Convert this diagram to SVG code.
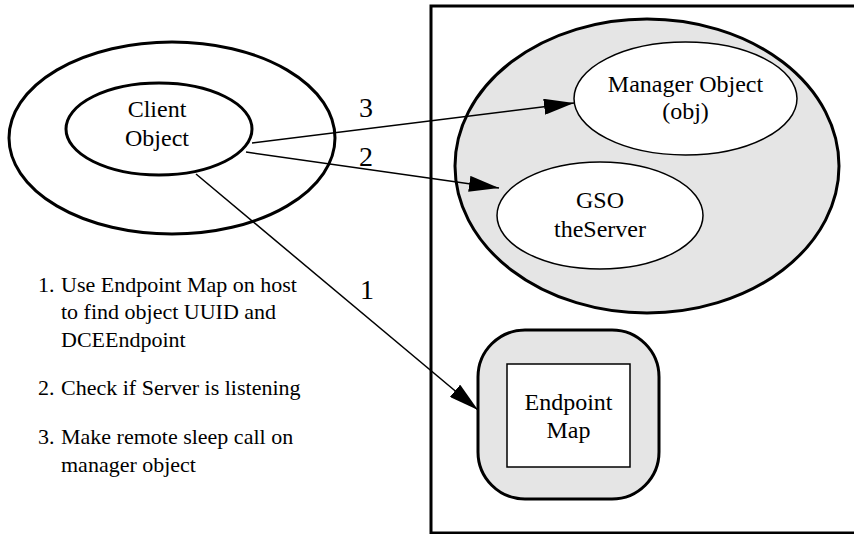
<svg xmlns="http://www.w3.org/2000/svg" width="854" height="534" viewBox="0 0 854 534">
  <style>
    text { font-family: 'Liberation Serif', 'DejaVu Serif', serif; fill: #000; }
    .lbl { font-size: 24px; text-anchor: middle; }
    .num { font-size: 28px; text-anchor: middle; }
    .note { font-size: 22px; }
    .thick { fill: #fff; stroke: #000; stroke-width: 3; }
    .thin { fill: #fff; stroke: #000; stroke-width: 1.5; }
    .gray { fill: #e5e5e5; stroke: #000; stroke-width: 3; }
    .conn { fill: none; stroke: #000; stroke-width: 1.5; }
  </style>
  <defs>
    <marker id="arrow" markerUnits="userSpaceOnUse" markerWidth="30" markerHeight="16" refX="30" refY="8" orient="auto">
      <path d="M0,0 L30,8 L0,16 Z" fill="#000"/>
    </marker>
  </defs>

  <rect width="854" height="534" fill="#fff"/>

  <!-- server host boundary -->
  <g id="host">
    <rect x="431" y="6" width="440" height="527" fill="none" stroke="#000" stroke-width="3"/>
  </g>

  <!-- client process -->
  <g id="client">
    <ellipse cx="172" cy="138" rx="163" ry="96" class="thick"/>
    <ellipse cx="159" cy="129" rx="93" ry="46" class="thick"/>
    <text class="lbl" x="157" y="117" font-family="Liberation Serif">Client</text>
    <text class="lbl" x="157" y="146" font-family="Liberation Serif">Object</text>
  </g>

  <!-- server process -->
  <g id="server">
    <ellipse cx="647" cy="166" rx="192" ry="147" class="gray"/>
  </g>

  <g id="manager">
    <ellipse cx="685.5" cy="98.5" rx="111.5" ry="56.5" class="thin"/>
    <text class="lbl" x="685.5" y="92">Manager Object</text>
    <text class="lbl" x="685.5" y="119">(obj)</text>
  </g>

  <g id="gso">
    <ellipse cx="600" cy="215.5" rx="103" ry="53.5" class="thin"/>
    <text class="lbl" x="600" y="208">GSO</text>
    <text class="lbl" x="600" y="237">theServer</text>
  </g>

  <g id="endpoint-map">
    <rect x="478" y="330" width="181" height="169" rx="47" ry="47" class="gray"/>
    <rect x="507" y="364" width="123" height="103" class="thin"/>
    <text class="lbl" x="568.5" y="410">Endpoint</text>
    <text class="lbl" x="568.5" y="438">Map</text>
  </g>

  <!-- calls from the client -->
  <g id="connectors">
    <line x1="252" y1="143" x2="574" y2="103" class="conn" marker-end="url(#arrow)"/>
    <line x1="246" y1="152" x2="499" y2="188" class="conn" marker-end="url(#arrow)"/>
    <line x1="196" y1="174" x2="478" y2="410" class="conn" marker-end="url(#arrow)"/>
    <text class="num" x="366" y="117">3</text>
    <text class="num" x="366" y="166">2</text>
    <text class="num" x="367" y="299">1</text>
  </g>

  <!-- step notes -->
  <g id="notes">
    <text class="note" x="38" y="292">1.</text>
    <text class="note" x="61" y="292">Use Endpoint Map on host</text>
    <text class="note" x="61" y="319">to find object UUID and</text>
    <text class="note" x="61" y="347">DCEEndpoint</text>
    <text class="note" x="38" y="395">2.</text>
    <text class="note" x="61" y="395">Check if Server is listening</text>
    <text class="note" x="38" y="444">3.</text>
    <text class="note" x="61" y="444">Make remote sleep call on</text>
    <text class="note" x="61" y="472">manager object</text>
  </g>
</svg>
